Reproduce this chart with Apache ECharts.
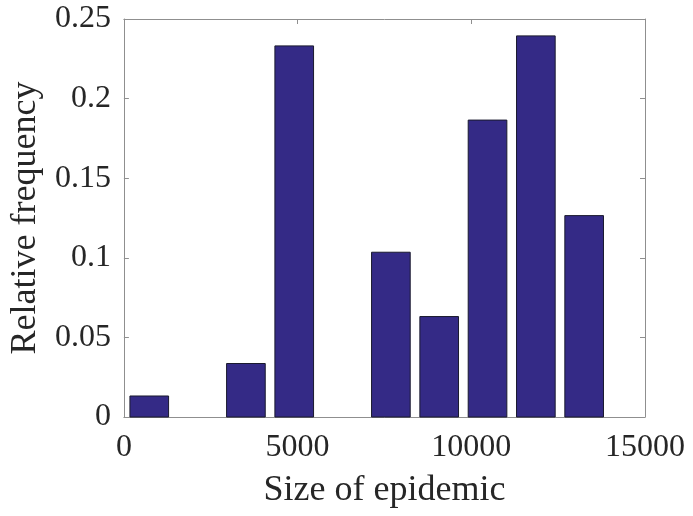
<!DOCTYPE html>
<html>
<head>
<meta charset="utf-8">
<script src="https://cdn.jsdelivr.net/npm/echarts@6/dist/echarts.min.js"></script>
<style>
  html, body { margin: 0; padding: 0; background: #fff; }
  #chart { width: 693px; height: 516px; }
</style>
</head>
<body>
<div id="chart"></div>
<script>
// Histogram of simulated epidemic sizes (10 bins)
const binCenters = [730, 2121, 3512, 4903, 6294, 7685, 9076, 10467, 11858, 13249];
const relFreq = [0.0132, 0, 0.0336, 0.2331, 0, 0.1035, 0.0631, 0.1865, 0.2394, 0.1265];
const binWidth = 1391;
const xTicks = [0, 5000, 10000, 15000];
const yTicks = [0, 0.05, 0.1, 0.15, 0.2, 0.25];

const font = "'Liberation Serif', 'Times New Roman', Times, serif";
const textColor = '#262626';
const frameColor = '#8f8f8f';
const barRatio = 0.8;

const chart = echarts.init(document.getElementById('chart'), null, { renderer: 'canvas' });

const tickStyle = { show: true, inside: true, length: 5, lineStyle: { color: frameColor, width: 1 } };

chart.setOption({
  animation: false,
  backgroundColor: '#fff',
  grid: { left: 123, right: 48, top: 19, bottom: 99, containLabel: false },
  xAxis: [
    {
      type: 'value',
      min: xTicks[0],
      max: xTicks[xTicks.length - 1],
      interval: xTicks[1] - xTicks[0],
      name: 'Size of epidemic',
      nameLocation: 'middle',
      nameGap: 56,
      nameTextStyle: { fontFamily: font, fontSize: 36, color: textColor },
      axisLine: { show: true, onZero: false, lineStyle: { color: frameColor, width: 1 } },
      axisTick: tickStyle,
      splitLine: { show: false },
      axisLabel: { fontFamily: font, fontSize: 32, color: textColor, margin: 15, formatter: v => String(v) }
    },
    {
      type: 'value',
      position: 'top',
      min: xTicks[0],
      max: xTicks[xTicks.length - 1],
      interval: xTicks[1] - xTicks[0],
      axisLine: { show: true, onZero: false, lineStyle: { color: frameColor, width: 1 } },
      axisTick: tickStyle,
      splitLine: { show: false },
      axisLabel: { show: false }
    }
  ],
  yAxis: [
    {
      type: 'value',
      min: yTicks[0],
      max: yTicks[yTicks.length - 1],
      interval: yTicks[1] - yTicks[0],
      name: 'Relative frequency',
      nameLocation: 'middle',
      nameGap: 79,
      nameTextStyle: { fontFamily: font, fontSize: 36, color: textColor },
      axisLine: { show: true, onZero: false, lineStyle: { color: frameColor, width: 1 } },
      axisTick: tickStyle,
      splitLine: { show: false },
      axisLabel: {
        fontFamily: font, fontSize: 32, color: textColor, margin: 13,
        padding: [6, 0, 0, 0],
        formatter: v => String(Math.round(v * 100) / 100)
      }
    },
    {
      type: 'value',
      position: 'right',
      min: yTicks[0],
      max: yTicks[yTicks.length - 1],
      interval: yTicks[1] - yTicks[0],
      axisLine: { show: true, onZero: false, lineStyle: { color: frameColor, width: 1 } },
      axisTick: tickStyle,
      splitLine: { show: false },
      axisLabel: { show: false }
    }
  ],
  series: [
    {
      type: 'custom',
      xAxisIndex: 0,
      yAxisIndex: 0,
      data: binCenters.map((c, i) => [c, relFreq[i]]),
      renderItem: function (params, api) {
        const c = api.value(0);
        const v = api.value(1);
        if (!v) return null;
        const half = binWidth * barRatio / 2;
        const p0 = api.coord([c - half, v]);
        const p1 = api.coord([c + half, 0]);
        return {
          type: 'rect',
          shape: { x: p0[0], y: p0[1], width: p1[0] - p0[0], height: p1[1] - p0[1] },
          style: { fill: '#342a86', stroke: '#1a1a2e', lineWidth: 1 }
        };
      }
    }
  ]
});
</script>
</body>
</html>
